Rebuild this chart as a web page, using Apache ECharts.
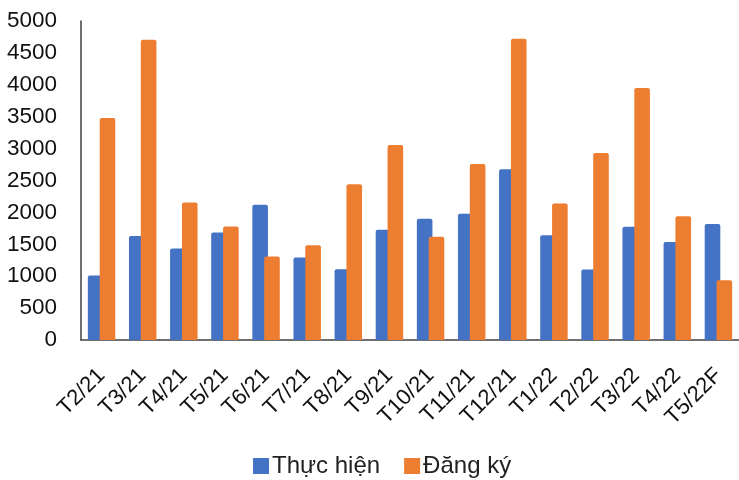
<!DOCTYPE html>
<html><head><meta charset="utf-8">
<script src="https://cdn.jsdelivr.net/npm/echarts@6/dist/echarts.min.js"></script>
<style>html,body{margin:0;padding:0;background:#fff}#c{width:739px;height:480px}</style>
</head><body><div id="c"></div>
<script>
const categories = ["T2/21","T3/21","T4/21","T5/21","T6/21","T7/21","T8/21","T9/21","T10/21","T11/21","T12/21","T1/22","T2/22","T3/22","T4/22","T5/22F"];
const thucHien = [1010,1630,1435,1685,2120,1295,1110,1730,1900,1980,2675,1640,1105,1775,1535,1820];
const dangKy   = [3480,4705,2155,1780,1310,1485,2440,3055,1620,2760,4720,2140,2930,3950,1940,935];
const yTicks = [0,500,1000,1500,2000,2500,3000,3500,4000,4500,5000];

const chart = echarts.init(document.getElementById('c'), null, {renderer:'canvas'});
const font = 'Liberation Sans, Arial, sans-serif';
chart.setOption({
  animation:false,
  grid:{left:81, top:21, width:663, height:319, containLabel:false},
  legend:{
    data:['Thực hiện','Đăng ký'],
    top:449, left:248,
    itemWidth:16, itemHeight:16, itemGap:24,
    icon:'rect',
    textStyle:{fontFamily:font, fontSize:24, color:'#222', padding:[0,0,0,-2]}
  },
  xAxis:{
    type:'category', data:categories,
    axisLine:{show:true, lineStyle:{color:'#404040', width:1.5}},
    axisTick:{show:false},
    axisLabel:{rotate:45, margin:32, fontFamily:font, fontSize:22, color:'#111', interval:0}
  },
  yAxis:{
    type:'value', min:yTicks[0], max:yTicks[yTicks.length-1], interval:500,
    splitLine:{show:false},
    axisLine:{show:true, lineStyle:{color:'#404040', width:1.5}},
    axisTick:{show:false},
    axisLabel:{margin:24, fontFamily:font, fontSize:22.5, color:'#111', formatter:v=>String(v)}
  },
  series:[
    {name:'Thực hiện', type:'bar', data:thucHien, barWidth:15.6, barGap:'-24%',
     itemStyle:{color:'#4472C4', borderRadius:[2,2,0,0]}},
    {name:'Đăng ký', type:'bar', data:dangKy, barWidth:15.6,
     itemStyle:{color:'#ED7D31', borderRadius:[2,2,0,0]}}
  ]
});
</script></body></html>
